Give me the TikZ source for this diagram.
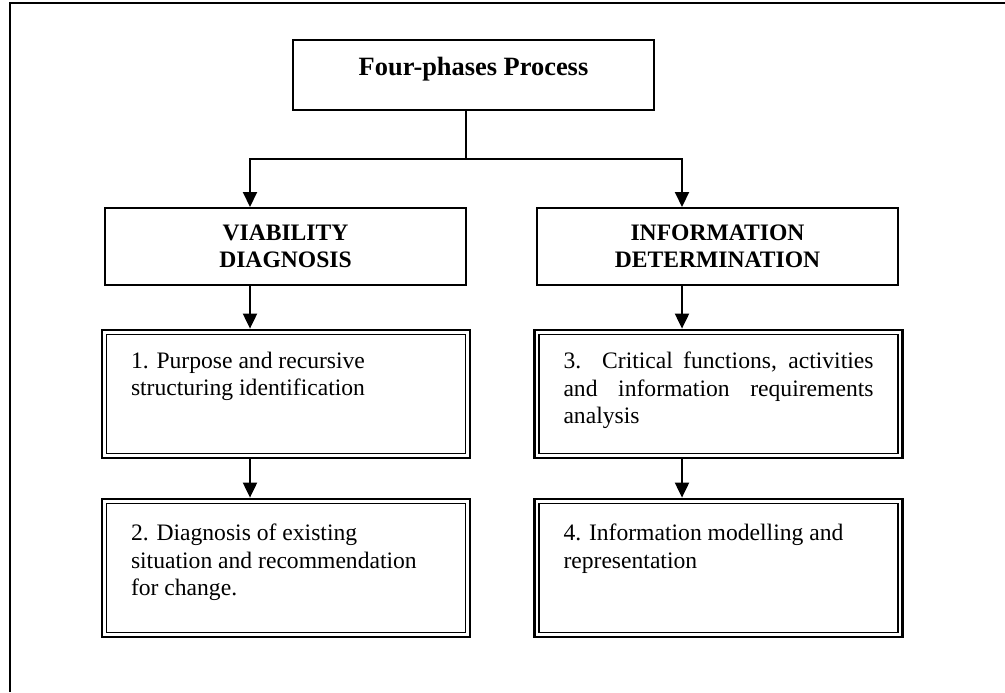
\documentclass[tikz,border=0pt]{standalone}
\usepackage{fontspec}
\setmainfont{Liberation Serif}
\usetikzlibrary{arrows.meta}

\newcommand{\bodysize}{\fontsize{11.8}{13.75}\selectfont}
\newcommand{\titlesize}{\fontsize{13.2}{15}\selectfont}

\tikzset{
  headbox/.style={draw, line width=1pt, minimum width=180.5pt, minimum height=38.5pt,
    inner sep=0pt, align=center, font=\bodysize\bfseries},
  phasebox/.style={draw, line width=1.4pt, inner xsep=14.5pt, font=\bodysize},
  link/.style={line width=1pt},
  arr/.style={link, -{Triangle[width=7pt,length=7.5pt]}}
}

\begin{document}
\begin{tikzpicture}[x=0.5pt, y=-0.5pt]
    \useasboundingbox (0,0) rectangle (1005,692);

    % Outer frame (only top and left show)
    \draw[line width=1pt] (10,692) -- (10,3) -- (1005,3);

    % Top box
    \node[draw, line width=1pt, minimum width=180.5pt, minimum height=35pt,
      text depth=9pt, font=\titlesize\bfseries] (process) at (473.5,75) {Four-phases Process};

    % The two phases
    \node[headbox] (viab) at (285.5,246.5) {VIABILITY\\DIAGNOSIS};
    \node[headbox] (info) at (717.5,246.5) {INFORMATION\\DETERMINATION};

    % Steps
    \node[phasebox, inner ysep=11pt] (purpose) at (286,394)
      {\parbox[c][42pt][t]{155pt}{\raggedright 1. Purpose and recursive\\ structuring identification}};
    \node[phasebox, inner ysep=12.5pt] (diagnosis) at (286,568)
      {\parbox[c][44pt][t]{155pt}{\raggedright 2. Diagnosis of existing\\ situation and recommendation\\ for change.}};
    \node[phasebox, inner ysep=11pt] (critical) at (718.5,394)
      {\parbox[c][42pt][t]{155pt}{3. Critical functions, activities\linebreak and information requirements\linebreak analysis}};
    \node[phasebox, inner ysep=12.5pt] (modelling) at (718.5,568)
      {\parbox[c][44pt][t]{155pt}{\raggedright 4. Information modelling and\\ representation}};

    % Inner line of the double borders
    \foreach \b in {purpose,diagnosis,critical,modelling}
      \draw[line width=0.8pt] ([shift={(3pt,-3pt)}]\b.north west) rectangle ([shift={(-3pt,3pt)}]\b.south east);

    % Connectors
    \coordinate (split) at (466,159);
    \coordinate (lx) at (250,0);
    \coordinate (rx) at (682,0);
    \draw[link] (process.south -| split) -- (split);
    \draw[arr] (split) -| (viab.north -| lx);
    \draw[arr] (split) -| (info.north -| rx);
    \draw[arr] (viab.south -| lx) -- (purpose.north -| lx);
    \draw[arr] (info.south -| rx) -- (critical.north -| rx);
    \draw[arr] (purpose.south -| lx) -- (diagnosis.north -| lx);
    \draw[arr] (critical.south -| rx) -- (modelling.north -| rx);
\end{tikzpicture}
\end{document}
